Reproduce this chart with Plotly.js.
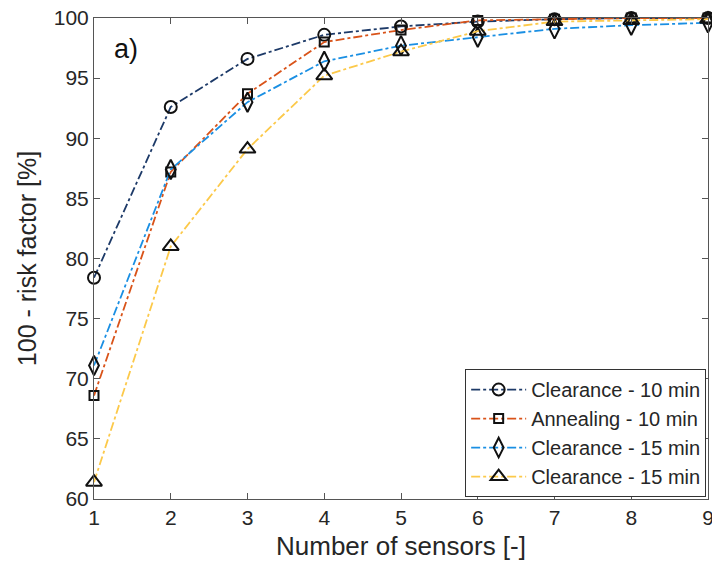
<!DOCTYPE html>
<html>
<head>
<meta charset="utf-8">
<script src="https://cdn.plot.ly/plotly-3.0.1.min.js"></script>
<style>html,body{margin:0;padding:0;background:#fff;}#chart{width:712px;height:573px;}</style>
</head>
<body>
<div id="chart"></div>
<script>
const sensors = [1, 2, 3, 4, 5, 6, 7, 8, 9];
const clearance10 = [78.4, 92.6, 96.6, 98.6, 99.3, 99.7, 99.9, 100.0, 100.0];
const annealing10 = [68.6, 87.2, 93.7, 98.0, 99.0, 99.8, 99.9, 100.0, 100.0];
const clearance15a = [71.1, 87.4, 93.0, 96.4, 97.7, 98.4, 99.1, 99.4, 99.6];
const clearance15b = [61.4, 81.0, 89.1, 95.2, 97.2, 98.9, 99.7, 99.8, 99.9];
const names = ['Clearance - 10 min', 'Annealing - 10 min', 'Clearance - 15 min', 'Clearance - 15 min'];
const xTickVals = [1, 2, 3, 4, 5, 6, 7, 8, 9];
const yTickVals = [60, 65, 70, 75, 80, 85, 90, 95, 100];

const font = '"Liberation Sans", Arial, sans-serif';
const colors = ['#1d3a68', '#d95319', '#1a8fe3', '#fcc94a'];
const symbols = ['circle-open', 'square-open', 'diamond-tall-open', 'triangle-up-open'];
const sizes = [12, 9, 14, 14];
const series = [clearance10, annealing10, clearance15a, clearance15b];

const traces = series.map((ys, i) => ({
  x: sensors, y: ys, name: names[i], type: 'scatter', mode: 'lines+markers',
  line: {color: colors[i], width: 1.8, dash: 'dashdot'},
  marker: {symbol: symbols[i], size: sizes[i], color: '#111', line: {color: '#111', width: 2}},
  cliponaxis: false
}));

const layout = {
  width: 712, height: 573,
  margin: {l: 94, r: 4, t: 18, b: 74},
  paper_bgcolor: '#fff', plot_bgcolor: '#fff',
  font: {family: font, color: '#262626', size: 21},
  showlegend: true,
  legend: {x: 0.997, y: 0.004, xanchor: 'right', yanchor: 'bottom',
    bordercolor: '#333', borderwidth: 1, bgcolor: '#fff', itemwidth: 55,
    font: {family: font, size: 20, color: '#262626'}, tracegroupgap: 0},
  xaxis: {range: [1, 9], tickvals: xTickVals, ticks: 'inside', ticklen: 6, tickcolor: '#555',
    showline: true, linecolor: '#555', linewidth: 1, mirror: 'ticks', showgrid: false, zeroline: false,
    ticklabeloverflow: 'allow',
    tickfont: {size: 21}, title: {text: 'Number of sensors [-]', font: {size: 26}, standoff: 8}},
  yaxis: {range: [60, 100], tickvals: yTickVals, ticks: 'inside', ticklen: 6, tickcolor: '#555',
    showline: true, linecolor: '#555', linewidth: 1, mirror: 'ticks', showgrid: false, zeroline: false,
    ticklabeloverflow: 'allow',
    tickfont: {size: 21}, title: {text: '100 - risk factor [%]', font: {size: 25}, standoff: 10}},
  annotations: [{text: 'a)', xref: 'paper', yref: 'paper', x: 0.03, y: 0.935,
    xanchor: 'left', yanchor: 'middle', showarrow: false, font: {size: 27, color: '#111', family: font}}]
};
Plotly.newPlot('chart', traces, layout, {displayModeBar: false, staticPlot: true});
</script>
</body>
</html>
